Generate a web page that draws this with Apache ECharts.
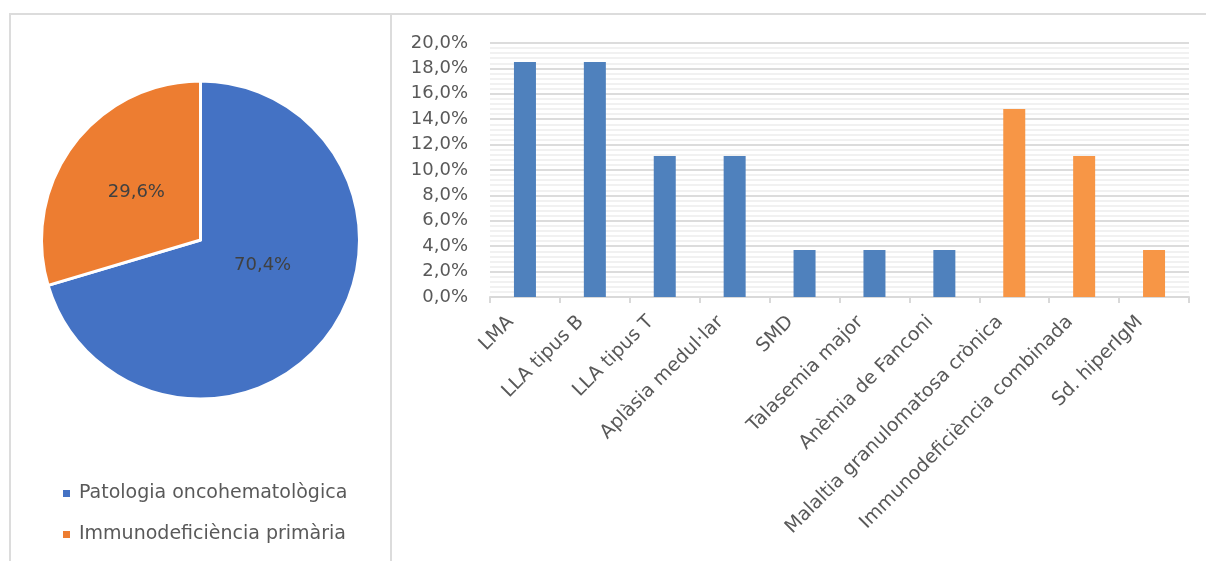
<!DOCTYPE html>
<html>
<head>
<meta charset="utf-8">
<script src="https://cdn.jsdelivr.net/npm/echarts@6/dist/echarts.min.js"></script>
<style>
html,body{margin:0;padding:0;background:#fff;}
#c{width:1206px;height:561px;}
</style>
</head>
<body>
<div id="c"></div>
<script>
// ---- data ----
const pieNames = ['Patologia oncohematològica', 'Immunodeficiència primària'];
const pieValues = [70.4, 29.6];

const categories = ['LMA', 'LLA tipus B', 'LLA tipus T', 'Aplàsia medul·lar', 'SMD', 'Talasemia major', 'Anèmia de Fanconi', 'Malaltia granulomatosa crònica', 'Immunodeficiència combinada', 'Sd. hiperIgM'];
const barValues = [18.5, 18.5, 11.1, 11.1, 3.7, 3.7, 3.7, 14.8, 11.1, 3.7];
const barGroup = [0, 0, 0, 0, 0, 0, 0, 1, 1, 1];

const yMin = 0, yMax = 20, yStep = 2;

// ---- styles ----
const pieColors = ['#4472C4', '#ED7D31'];
const barColors = ['#4F81BD', '#F79646'];
const FONT = 'DejaVu Sans';
const textColor = '#595959';
const borderColor = '#dcdcdc';

const fmtPct = v => v.toFixed(1).replace('.', ',') + '%';

const chart = echarts.init(document.getElementById('c'), null, {renderer: 'canvas'});

const pieLabelOffsets = [[-4, -24], [2, 2]];

chart.setOption({
  animation: false,
  backgroundColor: '#fff',
  textStyle: {fontFamily: FONT},
  graphic: [
    {type: 'polyline', shape: {points: [[10, 600], [10, 14], [1206, 14]]}, style: {fill: 'none', stroke: borderColor, lineWidth: 2}, silent: true},
    {type: 'line', shape: {x1: 391, y1: 14, x2: 391, y2: 600}, style: {stroke: borderColor, lineWidth: 2}, silent: true}
  ],
  legend: {
    data: pieNames,
    orient: 'vertical',
    left: 56,
    top: 479,
    itemWidth: 9,
    itemHeight: 9,
    itemGap: 22,
    icon: 'rect',
    textStyle: {fontFamily: FONT, fontSize: 19, color: textColor, padding: [0, 0, 0, 3]}
  },
  grid: {left: 490, right: 17, top: 43, bottom: 264, containLabel: false},
  xAxis: {
    type: 'category',
    data: categories,
    axisLine: {lineStyle: {color: '#d9d9d9', width: 2}},
    axisTick: {show: true, length: 6, lineStyle: {color: '#d9d9d9', width: 2}},
    axisLabel: {rotate: 45, fontFamily: FONT, fontSize: 19, color: textColor, margin: 8, interval: 0, padding: [0, 20, 0, 0]}
  },
  yAxis: {
    type: 'value',
    min: yMin, max: yMax, interval: yStep,
    axisLine: {show: false},
    axisTick: {show: false},
    axisLabel: {formatter: fmtPct, fontFamily: FONT, fontSize: 18, color: textColor, margin: 22},
    splitLine: {lineStyle: {color: '#dcdcdc', width: 2}},
    minorTick: {show: false, splitNumber: 5},
    minorSplitLine: {show: true, lineStyle: {color: '#f1f1f1', width: 2}}
  },
  series: [
    {
      type: 'pie',
      center: [200.5, 240],
      radius: [0, 159],
      startAngle: 90,
      clockwise: true,
      itemStyle: {borderColor: '#fff', borderWidth: 3},
      label: {position: 'inside', formatter: p => fmtPct(p.value), fontFamily: FONT, fontSize: 18, color: '#404040'},
      labelLine: {show: false},
      emphasis: {disabled: true},
      data: pieNames.map((n, i) => ({name: n, value: pieValues[i], itemStyle: {color: pieColors[i]}, label: {offset: pieLabelOffsets[i]}}))
    },
    {
      type: 'bar',
      barWidth: 22,
      data: barValues.map((v, i) => ({value: v, itemStyle: {color: barColors[barGroup[i]]}}))
    }
  ]
});
</script>
</body>
</html>
